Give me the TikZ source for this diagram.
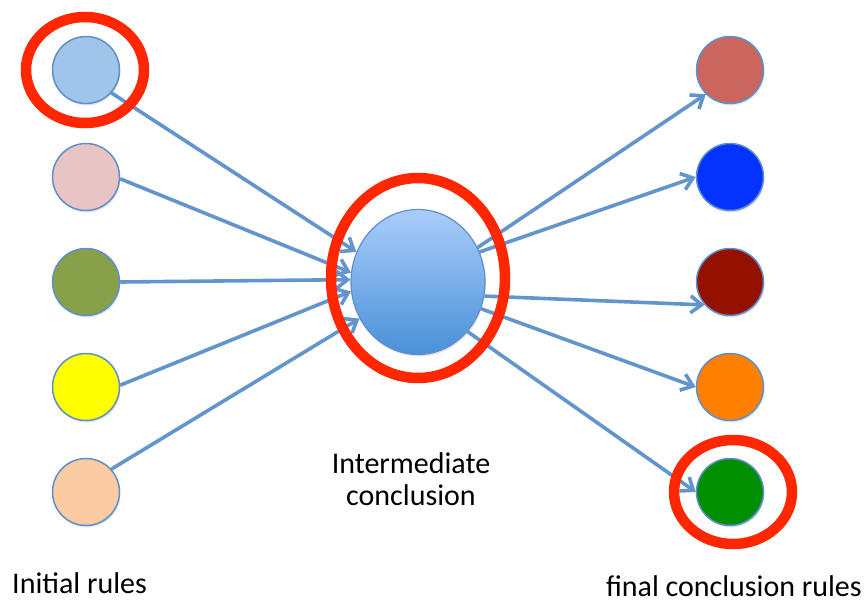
\documentclass[tikz,border=0pt]{standalone}
\usepackage{fontspec}
\setmainfont{Carlito}
\usetikzlibrary{arrows.meta,shapes.geometric,shadows}
\definecolor{arrowblue}{RGB}{99,149,205}
\definecolor{edgeblue}{RGB}{95,143,203}
\definecolor{ringred}{RGB}{255,38,0}
\definecolor{cA}{RGB}{160,196,234}
\definecolor{cB}{RGB}{232,196,196}
\definecolor{cC}{RGB}{136,160,74}
\definecolor{cD}{RGB}{255,255,0}
\definecolor{cE}{RGB}{251,203,163}
\definecolor{dA}{RGB}{203,102,94}
\definecolor{dB}{RGB}{4,51,255}
\definecolor{dC}{RGB}{148,17,0}
\definecolor{dD}{RGB}{255,127,0}
\definecolor{dE}{RGB}{0,143,0}
\definecolor{ctop}{RGB}{170,205,250}
\definecolor{cbot}{RGB}{74,144,217}
\tikzset{
  dot/.style={circle, draw=edgeblue, line width=1.5pt, minimum size=67pt, inner sep=0pt,
    drop shadow={shadow xshift=1pt, shadow yshift=-2pt, opacity=0.2}},
  hub/.style={ellipse, draw=edgeblue, line width=1.2pt, minimum width=134pt, minimum height=145pt, inner sep=0pt,
    top color=ctop, bottom color=cbot,
    drop shadow={shadow xshift=1pt, shadow yshift=-2pt, opacity=0.2}},
  ring/.style={ellipse, draw=ringred, line width=10.5pt, inner sep=0pt},
  link/.style={draw=arrowblue, line width=3.6pt, -{Straight Barb[length=11,width=17]}},
  lbl/.style={font=\fontsize{30}{32}\selectfont, inner sep=0pt}
}
\begin{document}
\begin{tikzpicture}[x=1pt,y=-1pt]
\useasboundingbox (0,0) rectangle (865,603);
% nodes
\node[dot, fill=cA] (l1) at (86,70) {};
\node[dot, fill=cB] (l2) at (86,177) {};
\node[dot, fill=cC] (l3) at (86,282) {};
\node[dot, fill=cD] (l4) at (86,387) {};
\node[dot, fill=cE] (l5) at (86,492) {};
\node[dot, fill=dA] (r1) at (730,70) {};
\node[dot, fill=dB] (r2) at (730,177) {};
\node[dot, fill=dC] (r3) at (730,282) {};
\node[dot, fill=dD] (r4) at (730,387) {};
\node[dot, fill=dE] (r5) at (730,492) {};
\node[hub] (c) at (418,282) {};
% connectors
\draw[link] (l1.-42) -- (c.154);
\draw[link] (l2.-3) -- (c.172);
\draw[link] (l3.0) -- (c.178);
\draw[link] (l4.3) -- (c.188);
\draw[link] (l5.42) -- (c.212);
\draw[link] (c.30) -- (r1.225);
\draw[link] (c.26) -- (r2.180);
\draw[link] (c.-12) -- (r3.222);
\draw[link] (c.-23) -- (r4.180);
\draw[link] (c.-45) -- (r5.180);
% red rings
\node[ring, minimum width=118pt, minimum height=106pt] (h1) at (85,70) {};
\node[ring, minimum width=174pt, minimum height=200pt] (h2) at (418,278) {};
\node[ring, minimum width=118pt, minimum height=104pt] (h3) at (733,492) {};
% labels
\node[lbl, anchor=base west] (t1) at (12,593) {Initial rules};
\node[lbl, anchor=base, align=center] (t2) at (411,505) {Intermediate\\conclusion};
\node[lbl, anchor=base east] (t3) at (862,596) {final conclusion rules};
\end{tikzpicture}
\end{document}
